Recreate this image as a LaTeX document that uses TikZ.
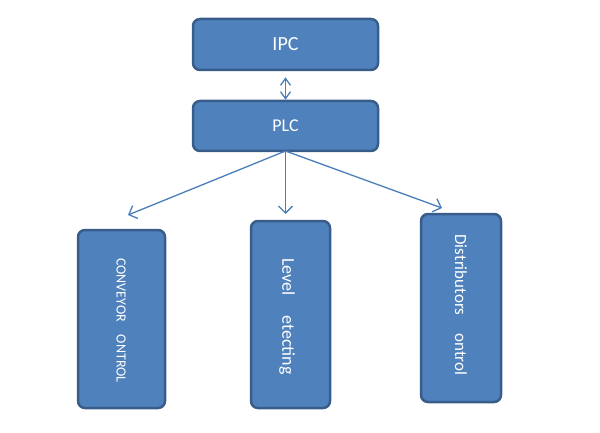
\documentclass[tikz,border=0pt]{standalone}
\usepackage{fontspec}
\setmainfont{Carlito}
\usetikzlibrary{arrows.meta}
\definecolor{boxfill}{HTML}{4F81BD}
\definecolor{boxdraw}{HTML}{385D8A}
\definecolor{arrowc}{HTML}{4A7EBB}
\begin{document}
\begin{tikzpicture}[x=1pt,y=-1pt,
  box/.style={draw=boxdraw,fill=boxfill,line width=2.5pt,rounded corners=7pt,text=white,inner sep=0pt},
  conn/.style={draw=arrowc,line width=1.3pt,-{Straight Barb[length=7pt,width=14pt]}}]
\useasboundingbox (0,0) rectangle (600,433);
\node[box,minimum width=185pt,minimum height=51pt,font=\fontsize{20}{22}\selectfont] (ipc) at (285.5,44.5) {IPC};
\node[box,minimum width=185pt,minimum height=50pt,font=\fontsize{18}{20}\selectfont] (plc) at (285.5,126) {PLC};
\node[box,minimum width=87pt,minimum height=178pt] (b1) at (121.5,319) {};
\node[box,minimum width=79pt,minimum height=187pt] (b2) at (290.5,314.5) {};
\node[box,minimum width=80pt,minimum height=188pt] (b3) at (461,308) {};
\node[text=white,rotate=-90,font=\fontsize{14}{16}\selectfont] (t1) at (121,320.5) {CONVEYOR\hspace{13pt}ONTROL};
\node[text=white,rotate=-90,font=\fontsize{18}{20}\selectfont] (t2) at (287,316.5) {Level\hspace{20pt}etecting};
\node[text=white,rotate=-90,font=\fontsize{17}{20}\selectfont] (t3) at (461,305) {Distributors\hspace{18pt}ontrol};
\coordinate (top) at (285.5,151);
\coordinate (e1) at (128,215);
\coordinate (e2) at (285.5,214);
\coordinate (e3) at (442,208);
\draw[conn] (top) -- (e1);
\draw[conn] (top) -- (e2);
\draw[conn] (top) -- (e3);
\draw[draw=arrowc,line width=1.3pt,{Straight Barb[length=7pt,width=10pt]}-{Straight Barb[length=7pt,width=10pt]}] (ipc.south) ++(0,6) coordinate (d1) -- (plc.north);
\end{tikzpicture}
\end{document}
